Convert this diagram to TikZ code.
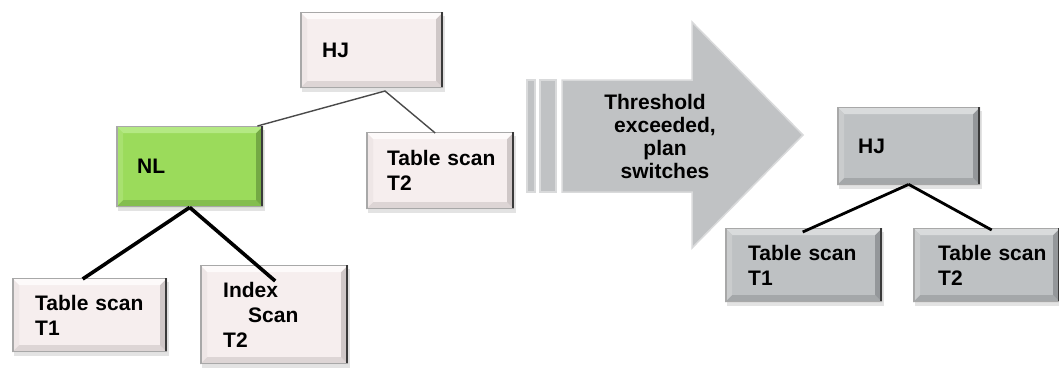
\documentclass[tikz,border=0pt]{standalone}
\usepackage{fontspec}
\setmainfont{Liberation Sans}
\usetikzlibrary{shadows}
\definecolor{pinkbase}{HTML}{F6EEEE}
\definecolor{pinktop}{HTML}{FDFAFA}
\definecolor{pinkleft}{HTML}{EEE6E6}
\definecolor{pinkbot}{HTML}{DDD5D5}
\definecolor{pinkright}{HTML}{CFC7C7}
\definecolor{greenbase}{HTML}{9BDB5B}
\definecolor{greentop}{HTML}{B4E983}
\definecolor{greenleft}{HTML}{A8E16F}
\definecolor{greenbot}{HTML}{84BE4F}
\definecolor{greenright}{HTML}{74A944}
\definecolor{graybase}{HTML}{BEC1C3}
\definecolor{graytop}{HTML}{D9DBDC}
\definecolor{grayleft}{HTML}{CACCCD}
\definecolor{graybot}{HTML}{A4A7A9}
\definecolor{grayright}{HTML}{94979A}
\definecolor{arrowfill}{HTML}{C0C2C4}
\definecolor{arrowedge}{HTML}{D9DADB}
\definecolor{edgedark}{HTML}{3A3A3A}
\definecolor{edgelight}{HTML}{A8A8A8}
\definecolor{thinline}{HTML}{4A4A4A}
\begin{document}
\begin{tikzpicture}[x=1pt,y=-1pt,
  bevel/.style n args={5}{fill=#1, draw=none, anchor=north west,
    inner ysep=0pt, align=left,
    font=\bfseries\fontsize{21}{25}\selectfont,
    drop shadow={opacity=0.22, shadow xshift=2pt, shadow yshift=-4pt},
    path picture={
      \path (path picture bounding box.north west) coordinate (bNW)
            (path picture bounding box.north east) coordinate (bNE)
            (path picture bounding box.south west) coordinate (bSW)
            (path picture bounding box.south east) coordinate (bSE);
      \fill[#2] (bNW) -- (bNE) -- ([xshift=-7pt,yshift=-7pt]bNE) -- ([xshift=7pt,yshift=-7pt]bNW) -- cycle;
      \fill[#3] (bNW) -- ([xshift=7pt,yshift=-7pt]bNW) -- ([xshift=7pt,yshift=7pt]bSW) -- (bSW) -- cycle;
      \fill[#4] (bSW) -- (bSE) -- ([xshift=-7pt,yshift=7pt]bSE) -- ([xshift=7pt,yshift=7pt]bSW) -- cycle;
      \fill[#5] (bNE) -- (bSE) -- ([xshift=-7pt,yshift=7pt]bSE) -- ([xshift=-7pt,yshift=-7pt]bNE) -- cycle;
      \draw[edgelight, line width=1.6pt] ([xshift=0.8pt]bNW) -- ([xshift=0.8pt]bSW);
      \draw[edgelight, line width=0.8pt] ([yshift=-0.4pt]bNW) -- ([yshift=-0.4pt]bNE);
      \draw[edgedark, line width=2pt] ([xshift=-1pt]bNE) -- ([xshift=-1pt]bSE);
      \draw[edgelight, line width=1pt] ([yshift=0.5pt]bSW) -- ([yshift=0.5pt]bSE);
    }},
  pinkbox/.style={bevel={pinkbase}{pinktop}{pinkleft}{pinkbot}{pinkright}},
  greenbox/.style={bevel={greenbase}{greentop}{greenleft}{greenbot}{greenright}},
  graybox/.style={bevel={graybase}{graytop}{grayleft}{graybot}{grayright}},
  thinconn/.style={draw=thinline, line width=1.4pt},
  thickconn/.style={draw=black, line width=3.6pt},
  medconn/.style={draw=black, line width=2.8pt},
  arrowtext/.style={align=center, font=\bfseries\fontsize{21}{23}\selectfont, inner sep=0pt}
]
\useasboundingbox (0,0) rectangle (1059,368);
\fill[white] (0,0) rectangle (1059,368);

% ---- left plan ----
\node[pinkbox, minimum height=76pt, text width=99pt, inner xsep=22pt] (hjA) at (300,12) {HJ};
\node[greenbox, minimum height=81pt, text width=105pt, inner xsep=21pt] (nl) at (116,126) {NL};
\node[pinkbox, minimum height=77pt, text width=106pt, inner xsep=21pt] (tsB) at (366,132) {\mbox{Table scan}\\T2};
\node[pinkbox, minimum height=74pt, text width=109pt, inner xsep=23pt] (tsA) at (12,278) {\mbox{Table scan}\\T1};
\node[pinkbox, minimum height=99pt, text width=102pt, inner xsep=23pt] (idx) at (200,265) {Index\\\hspace*{25pt}Scan\\T2};

\coordinate (apex) at (385,91);
\draw[thinconn] ([xshift=-6pt]nl.north east) -- (apex) -- ([xshift=-5pt,yshift=-1pt]tsB.north);
\draw[thickconn] (nl.south) -- ([xshift=-7pt,yshift=-1pt]tsA.north);
\draw[thickconn] (nl.south) -- ([xshift=1pt,yshift=-16pt]idx.north);

% ---- arrow ----
\fill[arrowfill, draw=arrowedge, line width=1.2pt] (527,80) rectangle (535,192);
\fill[arrowfill, draw=arrowedge, line width=1.2pt] (540,80) rectangle (556,192);
\path[fill=arrowfill, draw=arrowedge, line width=1.5pt]
  (562,80) -- (692,80) -- (692,22) -- (803,135) -- (692,248) -- (692,192) -- (562,192) -- cycle;
\node[arrowtext] (arrtxt) at (665,136) {Threshold\hbox to 20pt{}\\exceeded,\\plan\\switches};

% ---- right plan ----
\node[graybox, minimum height=78pt, text width=101pt, inner xsep=21pt] (hjB) at (837,107) {HJ};
\node[graybox, minimum height=74pt, text width=111pt, inner xsep=23pt] (rtA) at (725,228) {\mbox{Table scan}\\T1};
\node[graybox, minimum height=74pt, text width=97pt, inner xsep=25pt] (rtB) at (913,228) {\mbox{Table scan}\\T2};

\draw[medconn] ([yshift=1pt]hjB.south) -- ([xshift=-1pt,yshift=-4pt]rtA.north);
\draw[medconn] ([yshift=1pt]hjB.south) -- ([xshift=5pt,yshift=-2pt]rtB.north);
\end{tikzpicture}
\end{document}
